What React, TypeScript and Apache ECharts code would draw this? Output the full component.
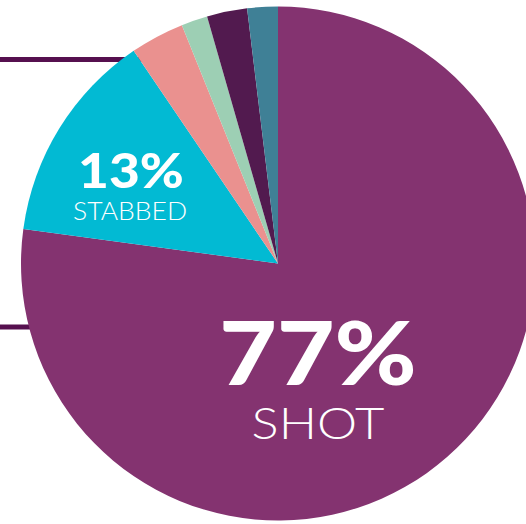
import React, { useEffect, useRef } from "react";
import * as echarts from "echarts";

const categories = ["Shot", "Stabbed", "Other 1", "Other 2", "Other 3", "Other 4"];
const values = [77.15, 13.36, 3.39, 1.65, 2.53, 1.92];
const colors = ["#843370", "#02BAD3", "#EA918F", "#9DCFB4", "#521A4F", "#3F8096"];
const bigLabels = ["77%", "13%"];
const smallLabels = ["SHOT", "STABBED"];

export default function App() {
  const ref = useRef<HTMLDivElement>(null);
  useEffect(() => {
    if (!ref.current) return;
    const chart = echarts.init(ref.current, null, { renderer: "svg" });
    const font = "Lato, 'Noto Sans', sans-serif";
    chart.setOption({
      animation: false,
      backgroundColor: "#ffffff",
      graphic: [
        {
          type: "line",
          z: 0,
          shape: { x1: 0, y1: 59.5, x2: 160, y2: 59.5 },
          style: { stroke: "#56104F", lineWidth: 5 },
        },
        {
          type: "line",
          z: 0,
          shape: { x1: 0, y1: 327, x2: 60, y2: 327 },
          style: { stroke: "#56104F", lineWidth: 5 },
        },
        {
          type: "text",
          z: 100,
          x: 318,
          y: 351,
          scaleX: 1.13,
          style: {
            text: bigLabels[0],
            fill: "#ffffff",
            font: `900 88px ${font}`,
            lineHeight: 66,
            align: "center",
            verticalAlign: "middle",
          },
        },
        {
          type: "text",
          z: 100,
          x: 318,
          y: 423,
          scaleX: 1.18,
          style: {
            text: smallLabels[0],
            fill: "#ffffff",
            font: `300 43px ${font}`,
            lineHeight: 34,
            align: "center",
            verticalAlign: "middle",
          },
        },
        {
          type: "text",
          z: 100,
          x: 131,
          y: 170,
          scaleX: 1.11,
          style: {
            text: bigLabels[1],
            fill: "#ffffff",
            font: `900 48px ${font}`,
            lineHeight: 38,
            align: "center",
            verticalAlign: "middle",
          },
        },
        {
          type: "text",
          z: 100,
          x: 130,
          y: 210,
          scaleX: 1.02,
          style: {
            text: smallLabels[1],
            fill: "#ffffff",
            font: `300 26px ${font}`,
            lineHeight: 21,
            align: "center",
            verticalAlign: "middle",
          },
        },
      ],
      series: [
        {
          type: "pie",
          z: 2,
          center: [278, 263.5],
          radius: [0, 257],
          startAngle: 90,
          clockwise: true,
          label: { show: false },
          labelLine: { show: false },
          emphasis: { disabled: true },
          itemStyle: { borderWidth: 0 },
          data: categories.map((name, i) => ({
            name,
            value: values[i],
            itemStyle: { color: colors[i] },
          })),
        },
      ],
    });
    return () => chart.dispose();
  }, []);
  return (
    <div
      ref={ref}
      style={{ position: "fixed", left: 0, top: 0, width: 526, height: 524 }}
    />
  );
}
